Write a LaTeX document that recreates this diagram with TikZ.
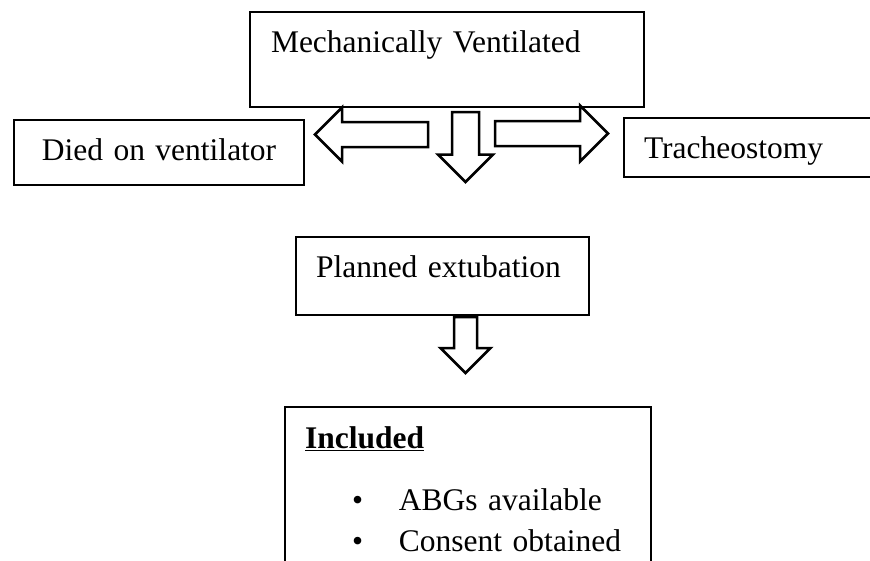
\documentclass[tikz,border=0pt]{standalone}
\usepackage{fontspec}
\setmainfont{Liberation Serif}
\begin{document}
\begin{tikzpicture}[x=1pt,y=-1pt]
    \tikzstyle{box}=[draw=black,line width=2pt,rectangle,anchor=north west,inner sep=0pt,
        text height=40pt,align=left,font=\fontsize{31.5}{41}\selectfont]
    \tikzstyle{arrowline}=[draw=black,line width=2.5pt,fill=white,line join=miter]
    \tikzset{pics/blockarrow/.style args={#1/#2/#3}{code={
        \draw[arrowline] (0,-#2) -- ({#1-#3},-#2) -- ({#1-#3},-#3) -- (#1,0)
            -- ({#1-#3},#3) -- ({#1-#3},#2) -- (0,#2) -- cycle;}}}

    \useasboundingbox (0,0) rectangle (870,560);
    \clip (0,0) rectangle (870,560);

    % Draw the boxes
    \node[box,text width=352pt,inner xsep=21pt,text depth=55pt] (mech) at (249,11) {Mechanically Ventilated};
    \node[box,text width=290pt,align=center,text depth=25pt] (died) at (13,119) {Died on ventilator};
    \node[box,text width=260pt,inner xsep=20pt,text depth=19pt] (trach) at (623,117) {Tracheostomy};
    \node[box,text width=253pt,inner xsep=20pt,text depth=38pt] (planned) at (295,236) {Planned extubation};
    \node[box,text width=326pt,inner xsep=20pt,text height=41pt,text depth=130pt] (included) at (284,406)
        {\textbf{\underline{Included}}\\[21pt]
         \hspace*{47pt}\makebox[47pt][l]{\textbullet}ABGs available\\
         \hspace*{47pt}\makebox[47pt][l]{\textbullet}Consent obtained};

    % Draw the block arrows out of the first box
    \pic[rotate=180] (toDied) at (428,134.5) {blockarrow=113/12.5/27};
    \pic[rotate=-90] (toPlanned) at (465.5,112) {blockarrow=70/13.5/27.5};
    \pic (toTrach) at (495,133.5) {blockarrow=113/12.5/28};

    % Arrow down to the included box
    \pic[rotate=-90] (toIncluded) at (465.5,317) {blockarrow=56/11.5/25};
\end{tikzpicture}
\end{document}
